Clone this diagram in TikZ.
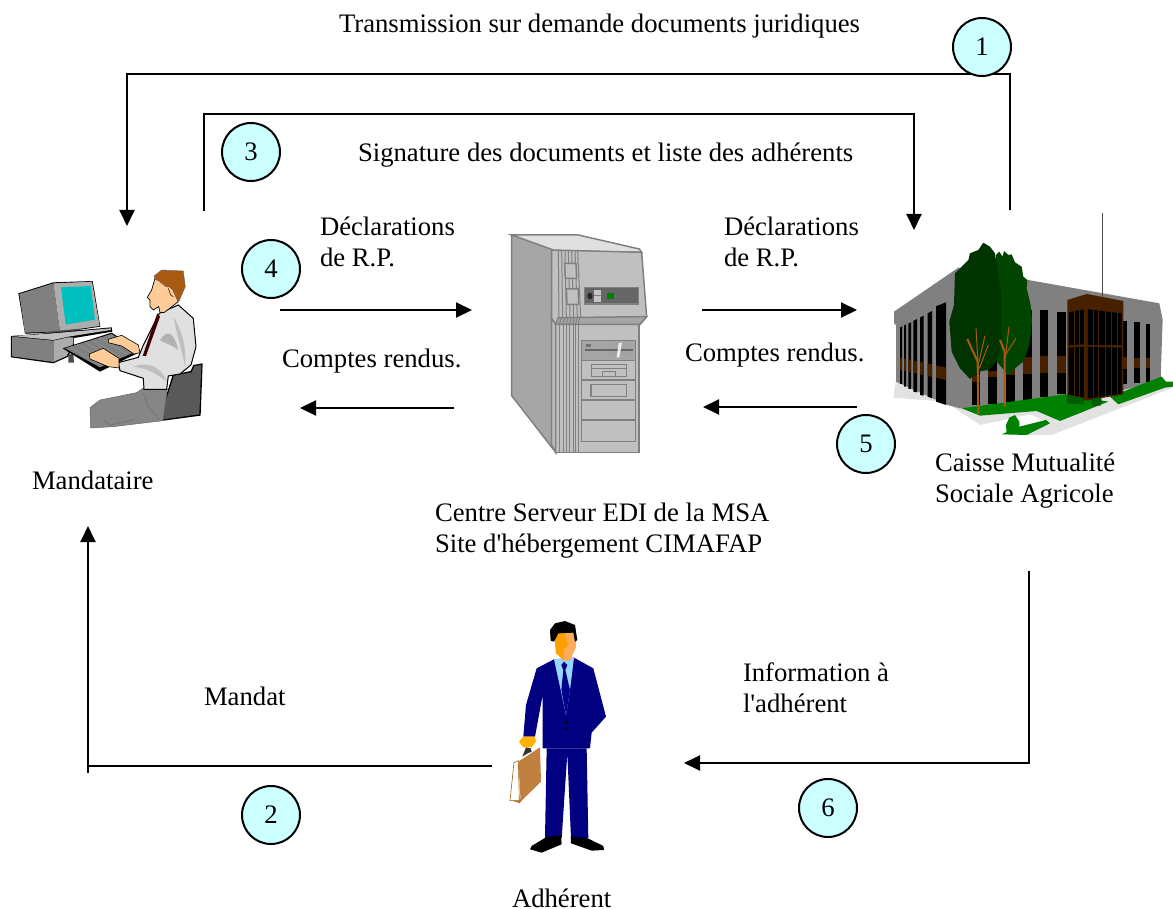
\documentclass[tikz,border=0pt]{standalone}
\usepackage{fontspec}
\setmainfont{Liberation Serif}
\font\plainserif="Liberation Serif" at 26.7pt
\newcommand{\apos}{{\plainserif\char39 }}
\usetikzlibrary{arrows.meta}
\definecolor{numfill}{HTML}{CCFFFF}
\definecolor{skin}{HTML}{FFCC99}
\definecolor{hair}{HTML}{A85A10}
\definecolor{navy}{HTML}{000080}
\definecolor{leafa}{HTML}{003300}
\definecolor{leafb}{HTML}{004400}
\definecolor{lawn}{HTML}{008000}
\definecolor{wood}{HTML}{472000}
\definecolor{srvline}{HTML}{808080}
\definecolor{srvface}{HTML}{C0C0C0}
\definecolor{srvside}{HTML}{A6A6A6}
\definecolor{teal}{HTML}{00BFBF}
\definecolor{trouser}{HTML}{868686}
\definecolor{shirt}{HTML}{E0E0E0}
\definecolor{ground}{HTML}{E2E2E2}
\definecolor{bagcol}{HTML}{C08040}
\tikzset{
  lbl/.style={font=\fontsize{26.7}{30.7}\selectfont,inner sep=0pt,outer sep=0pt,anchor=base west,align=left},
  twoline/.style={lbl,anchor=west},
  num/.style={circle,draw=black,line width=2pt,fill=numfill,minimum size=58pt,inner sep=0pt,font=\fontsize{26.7}{30.7}\selectfont},
  conn/.style={draw=black,line width=2pt},
  arr/.style={conn,-{Triangle[length=16pt,width=15pt]}},
  zoomed/.style={x=0.3333pt,y=-0.3333pt},
  srv/.style={draw=srvline,line width=1.5pt},
}
\begin{document}
\begin{tikzpicture}[x=1pt,y=-1pt]
\useasboundingbox (0,0) rectangle (1173,909);
% ---------- mandataire ----------
\begin{scope}[shift={(0,250)},zoomed]
% monitor
\fill[black] (55,130)--(160,97)--(278,93)--(301,230)--(180,248)--(75,251)--cycle;
\fill[srvline] (58,132)--(160,100)--(180,245)--(75,248)--cycle;
\fill[srvface!90!black] (160,100)--(276,95)--(299,228)--(180,245)--cycle;
\fill[teal] (183,112)--(272,108)--(285,209)--(197,224)--cycle;
\fill[black!70] (135,246)--(240,236)--(240,245)--(135,254)--cycle;
% base
\fill[black] (33,258)--(160,248)--(335,232)--(337,245)--(222,264)--(222,282)--(205,320)--(160,340)--(33,322)--cycle;
\fill[srvline] (36,260)--(160,272)--(160,336)--(36,319)--cycle;
\fill[gray!65] (160,272)--(205,262)--(220,262)--(220,280)--(200,318)--(160,336)--cycle;
\fill[srvface] (36,258)--(160,250)--(333,235)--(333,240)--(205,260)--(160,270)--cycle;
\fill[black!70] (205,315)--(220,310)--(222,338)--(205,338)--cycle;
% chair
\fill[black] (518,375)--(572,363)--(580,345)--(608,340)--(602,497)--(490,512)--(480,495)--cycle;
\fill[black!65] (522,377)--(575,367)--(583,348)--(604,345)--(598,493)--(492,508)--(484,494)--cycle;
% trousers
\fill[trouser,draw=black!60,line width=0.5pt] (432,413)--(502,418)--(489,512)--(340,530)--(272,534)--(270,473)--(300,450)--(410,428)--cycle;
\draw[black!55,line width=0.7pt] (310,510)--(330,525)--(400,510) (430,430)--(445,470)--(480,510);
% keyboard
\fill[black] (188,295)--(335,248)--(422,305)--(300,365)--cycle;
\fill[srvline] (195,295)--(335,252)--(412,303)--(300,352)--cycle;
\foreach \k in {0,1,...,5}{\draw[black!40,line width=0.4pt] ({210+\k*22},{290-\k*7})--({300+\k*20},{345-\k*8});}
% shirt
\fill[shirt,draw=black,line width=1pt] (478,190)--(535,165)--(580,205)--(588,290)--(573,345)--(540,372)--(505,378)--(500,418)--(432,418)--(430,385)--(360,362)--(355,338)--(415,322)--(430,285)--cycle;
\fill[black!30] (480,270) .. controls (500,240) and (520,240) .. (535,300) .. controls (510,280) and (490,280) .. (480,270)--cycle;
\fill[black!25] (400,350) .. controls (440,335) and (480,345) .. (500,395) .. controls (470,370) and (440,355) .. (400,350)--cycle;
\fill[black!25] (520,200) .. controls (545,240) and (560,290) .. (555,350) .. controls (545,300) and (530,250) .. (520,200)--cycle;
% tie
\fill[black!75!red] (472,190)--(480,200)--(438,318)--(428,318)--cycle;
% hands
\fill[skin,draw=black,line width=0.6pt] (325,268)--(365,256)--(415,285)--(420,308)--(402,312)--(365,288)--(325,278)--cycle;
\fill[skin,draw=black,line width=0.6pt] (268,312)--(310,295)--(357,325)--(357,354)--(325,350)--(270,327)--cycle;
% head
\fill[skin,draw=black,line width=0.7pt] (465,85)--(500,100)--(520,120)--(535,155)--(492,188)--(480,187)--(476,170)--(460,180)--(450,170)--(450,150)--(442,142)--(455,120)--cycle;
\fill[hair,draw=black!60,line width=0.4pt] (462,78)--(485,60)--(550,63)--(556,110)--(536,156)--(520,125)--(515,112)--(498,110)--(475,92)--(466,88)--cycle;
\draw[black!50!hair,line width=0.7pt] (505,115)--(512,135)--(520,140);
\end{scope}
% ---------- serveur ----------
\begin{scope}[shift={(490,225)},zoomed]
\path[srv,fill=black!12] (65,30)--(265,30)--(448,72)--(455,82)--(190,78)--cycle;
\path[srv,fill=srvside] (65,30)--(190,75)--(185,280)--(197,682)--(65,512)--cycle;
\path[srv,fill=srvface] (185,75)--(455,82)--(470,275)--(450,298)--(197,298)--(185,300)--cycle;
\path[srv,fill=srvface] (197,298)--(447,298)--(447,682)--(197,682)--cycle;
\path[srv,fill=srvface] (185,280)--(197,298)--(197,682)--(185,660)--cycle;
\path[srv,fill=srvside] (205,278)--(470,275)--(450,298)--(197,298)--cycle;
\foreach \xa/\xb in {205/207,215/218,225/229,235/240,245/251,255/262,263/272}{
  \draw[srvline,line width=1pt] (\xa,76)--(\xb,278);
}
\foreach \xa in {210,220,230,240,250,258,266}{
  \draw[srvline,line width=1pt] (\xa,298)--(\xa,682);
  \draw[srvline,line width=1pt] ({\xa-2},298)--({\xa+4},278);
}
\path[srv,fill=srvface] (224,115)--(258,115)--(260,160)--(226,160)--cycle;
\path[srv,fill=srvface] (229,192)--(265,192)--(266,238)--(231,238)--cycle;
\path[srv,fill=black!60] (283,187)--(445,187)--(445,237)--(283,237)--cycle;
\fill[black!85] (300,213) ellipse (8 and 10);
\fill[srvface!90!white] (312,195) rectangle (334,231);
\draw[gray,line width=1pt] (312,213)--(334,213);
\fill[lawn] (352,203) rectangle (372,222);
\draw[srvline,line width=1.5pt,fill=srvface] (275,347) rectangle (437,650);
\fill[srvside] (277,349) rectangle (435,406);
\fill[srvface!85!black] (350,354) rectangle (428,394);
\fill[black!55] (289,356) rectangle (303,365);
\draw[black!60,line width=1.5pt] (285,375)--(430,375);
\fill[black!8] (380,397)--(386,354)--(396,354)--(388,397)--cycle;
\foreach \yy in {407,465,525,585}{ \draw[srvline,line width=1.5pt] (275,\yy)--(437,\yy); }
\draw[srvline,line width=1.5pt] (304,418) rectangle (410,455);
\draw[srvline,line width=1pt] (304,432)--(410,432);
\draw[srvline,line width=1pt] (338,452)--(338,440)--(378,440)--(378,452);
\draw[srvline,line width=1.5pt] (303,478) rectangle (410,515);
\end{scope}
% ---------- batiment ----------
\begin{scope}[shift={(880,205)},zoomed]
% ground
\fill[ground] (48,525)--(40,578)--(195,590)--(300,660)--(450,628)--(510,655)--(405,690)--(515,690)--(879,548)--(845,520)--cycle;
% walls and roof
\fill[gray] (42,320)--(235,188)--(445,225)--(838,295)--(848,345)--(842,525)--(620,585)--(240,610)--(202,600)--(48,530)--(48,360)--(42,355)--cycle;
% left windows
\foreach \xa/\xb/\ta/\tb/\ba/\bb in {60/66/368/364/537/537,72/78/362/358/545/545,85/93/356/352/552/552,100/111/348/342/560/562,120/131/338/332/570/572,143/156/325/318/575/580,168/198/304/292/590/600}{
  \fill[black] (\xa,\ta)--(\xb,\tb)--(\xb,\bb)--(\xa,\ba)--cycle;
  \fill[wood] (\xa,{458+(\xa-60)*0.217})--(\xb,{458+(\xb-60)*0.217})--(\xb,{495+(\xb-60)*0.217})--(\xa,{495+(\xa-60)*0.217})--cycle;
}
% front windows
\foreach \xa/\xb/\ta/\ba/\wa/\wb in {275/300/315/600/510/530,325/352/315/597/498/515,378/404/315/592/475/510,428/456/315/585/455/508,480/505/315/575/453/505,531/557/320/567/453/503,728/742/348/538/456/492,763/780/352/533/458/490,797/811/356/530/458/488}{
  \fill[black] (\xa,\ta) rectangle (\xb,\ba);
  \fill[wood] (\xa,\wa) rectangle (\xb,\wb);
}
% lawns
\fill[lawn] (245,610)--(557,568)--(685,590)--(540,648)--(470,618)--(300,632)--cycle;
\fill[lawn] (690,575)--(845,515)--(858,530)--(879,530)--(879,545)--(855,548)--(715,598)--cycle;
\fill[lawn] (365,688)--(418,665)--(498,645)--(510,655)--(440,690)--cycle;
\fill[lawn] (380,688)--(378,660)--(388,638)--(405,630)--(418,650)--(418,680)--cycle;
% entrance block
\fill[wood] (562,285)--(620,267)--(730,288)--(730,568)--(620,587)--(562,570)--cycle;
\fill[black] (566,322)--(612,313)--(612,418)--(566,420)--cycle;
\fill[black] (624,313)--(725,325)--(725,420)--(624,420)--cycle;
\fill[black] (566,428)--(612,426)--(612,578)--(566,568)--cycle;
\fill[black] (624,426)--(725,428)--(725,566)--(624,580)--cycle;
\foreach \xx in {582,597,640,655,675,695,712}{\draw[wood,line width=0.8pt] (\xx,315)--(\xx,575);}
\fill[lawn!70!black] (562,570)--(612,580)--(612,598)--(562,595)--cycle;
\fill[lawn!70!black] (635,582)--(665,578)--(662,602)--(635,602)--cycle;
\draw[black!70,line width=1pt] (667,25)--(667,275);
% trees
\fill[leafb] (348,150)--(358,140)--(368,155)--(372,138)--(385,150)--(395,148)--(405,172)--(425,185)--(430,215)--(442,225)--(440,250)--(452,300)--(456,350)--(448,420)--(430,470)--(405,490)--(385,510)--(350,470)--(345,300)--cycle;
\fill[leafa] (310,113)--(330,125)--(345,145)--(350,180)--(365,280)--(365,400)--(358,445)--(345,475)--(325,495)--(295,500)--(270,522)--(240,490)--(215,440)--(208,350)--(222,300)--(225,205)--(240,190)--(265,165)--(270,145)--(295,135)--cycle;
\draw[hair,line width=2pt] (295,627)--(293,470)--(262,402);
\draw[hair,line width=1pt] (295,490)--(288,370);
\draw[hair,line width=1pt] (298,490)--(325,420);
\draw[hair,line width=1pt] (297,470)--(315,392);
\draw[hair,line width=2pt] (374,605)--(374,440)--(360,405);
\draw[hair,line width=1pt] (376,460)--(387,365);
\draw[hair,line width=1pt] (376,450)--(408,400);
\end{scope}
% ---------- adherent ----------
\begin{scope}[shift={(490,610)},zoomed]
\fill[black!80!white] (97,440)--(108,412)--(122,415)--(125,425)--(113,430)--cycle;
\fill[brown!70!hair] (60,570)--(90,580)--(95,568)--(65,562)--cycle;
\fill[white,draw=hair,line width=0.6pt] (72,458)--(85,452)--(88,572)--(60,572)--cycle;
\fill[bagcol] (85,455)--(150,412)--(153,515)--(92,575)--cycle;
\fill[navy] (140,175)--(192,148)--(252,143)--(310,175)--(348,320)--(305,368)--(300,415)--(158,415)--(158,255)--(135,380)--(100,380)--(108,285)--cycle;
\fill[navy] (170,415)--(290,415)--(295,685)--(243,685)--(232,430)--(215,685)--(165,685)--cycle;
\fill[black] (168,682)--(213,676)--(215,703)--(155,728)--(120,718)--(125,708)--cycle;
\fill[black] (243,680)--(293,685)--(340,708)--(342,720)--(305,722)--(243,700)--cycle;
\fill[orange!60!yellow] (87,395)--(100,380)--(135,380)--(138,395)--(125,412)--(100,412)--cycle;
\fill[blue!40!cyan!40!white] (192,148)--(252,143)--(240,240)--(228,315)--(212,240)--cycle;
\fill[blue!55!black] (214,165)--(222,155)--(232,165)--(226,180)--(240,240)--(228,315)--(214,240)--(220,180)--cycle;
\fill[black] (230,337) circle (5);
\fill[black] (230,356) circle (5);
\fill[orange!75!yellow] (192,70)--(255,65)--(258,110)--(240,150)--(222,152)--(198,130)--cycle;
\fill[skin!60!orange] (225,68)--(255,65)--(258,110)--(240,150)--(222,152)--(222,120)--(235,105)--cycle;
\fill[black] (182,92)--(180,60)--(195,40)--(225,33)--(255,45)--(262,90)--(255,95)--(250,68)--(205,70)--(192,95)--cycle;
\end{scope}
% ---------- labels ----------
\node[lbl] (t1) at (339,33) {Transmission sur demande documents juridiques};
\node[lbl] (t2) at (358,162) {Signature des documents et liste des adhérents};
\node[twoline] (t3) at (320,245.2) {\strut Déclarations\\\strut de R.P.};
\node[twoline] (t4) at (724,245.2) {\strut Déclarations\\\strut de R.P.};
\node[lbl] (t5) at (282,367) {Comptes rendus.};
\node[lbl] (t6) at (685,362) {Comptes rendus.};
\node[lbl] (t7) at (32,489) {Mandataire};
\node[twoline] (t8) at (435,531.2) {\strut Centre Serveur EDI de la MSA\\\strut Site d\apos hébergement CIMAFAP};
\node[twoline] (t9) at (935,481.2) {\strut Caisse Mutualité\\\strut Sociale Agricole};
\node[lbl] (t10) at (204,705) {Mandat};
\node[twoline] (t11) at (743,691.2) {\strut Information à\\\strut l\apos adhérent};
\node[lbl] (t12) at (512,907) {Adhérent};
% ---------- connectors ----------
\coordinate (a1s) at (1010,210); \coordinate (a1e) at (127,226); \coordinate (a1c) at (1010,74);
\coordinate (a3s) at (204,211); \coordinate (a3e) at (914,230); \coordinate (a3c) at (204,114);
\coordinate (a4s) at (280,310); \coordinate (a4e) at (472,310);
\coordinate (a7s) at (702,310); \coordinate (a7e) at (857,310);
\coordinate (a8s) at (454,408); \coordinate (a8e) at (300,408);
\coordinate (a5s) at (857,407); \coordinate (a5e) at (703,407);
\coordinate (a2s) at (492,766); \coordinate (a2c) at (88,766); \coordinate (a2e) at (88,526); \coordinate (a2t) at (88,773);
\coordinate (a6s) at (1029,571); \coordinate (a6c) at (1029,763); \coordinate (a6e) at (684,763);
\draw[arr] (a1s) -- (a1c) -| (a1e);
\draw[arr] (a3s) -- (a3c) -| (a3e);
\draw[arr] (a4s) -- (a4e);
\draw[arr] (a7s) -- (a7e);
\draw[arr] (a8s) -- (a8e);
\draw[arr] (a5s) -- (a5e);
\draw[arr] (a2s) -- (a2c) -- (a2e);
\draw[conn] (a2c) -- (a2t);
\draw[arr] (a6s) -- (a6c) -- (a6e);
% ---------- numbers ----------
\node[num] (n1) at (982,47) {1};
\node[num] (n3) at (251,152) {3};
\node[num] (n4) at (271,269) {4};
\node[num] (n5) at (866,444) {5};
\node[num] (n2) at (271,815) {2};
\node[num] (n6) at (828,808) {6};
\end{tikzpicture}
\end{document}
